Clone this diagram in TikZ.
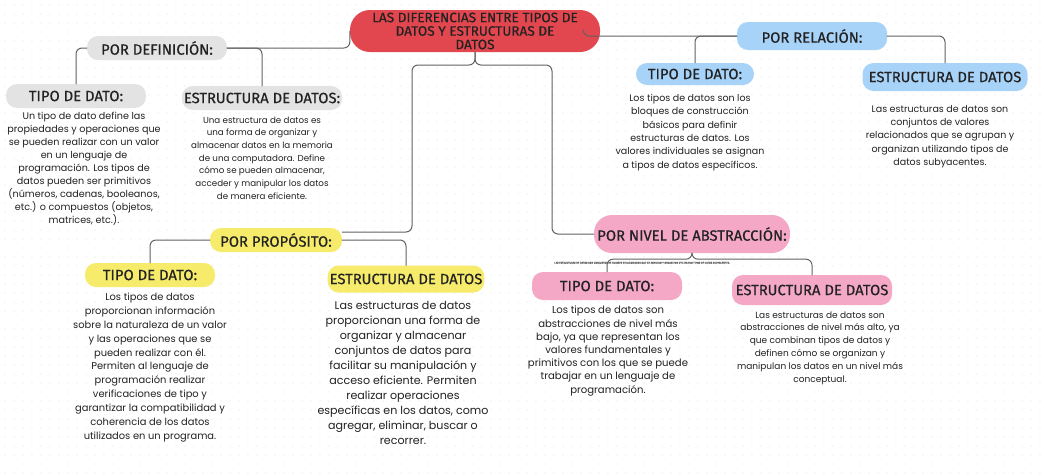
\documentclass[tikz,border=0pt]{standalone}
\usepackage{fontspec}
\newfontfamily\headfont{Fira Sans}[FakeBold=0.5]
\newfontfamily\bodyfont{Poppins}
\usetikzlibrary{positioning}
\definecolor{titred}{HTML}{E2474F}
\definecolor{defgray}{HTML}{E3E3E3}
\definecolor{relblue}{HTML}{A8D3F9}
\definecolor{propyel}{HTML}{F6EB6A}
\definecolor{nivpink}{HTML}{F4A8C6}
\definecolor{linec}{HTML}{626262}
\definecolor{dotc}{HTML}{E4E4E4}
\definecolor{txtc}{HTML}{222222}
\tikzset{
  head/.style={font=\headfont\fontsize{14.8}{16}\selectfont, text=txtc, inner sep=2pt, rounded corners=11pt, minimum height=24pt},
  body/.style={font=\bodyfont\fontsize{9.9}{13}\selectfont, text=txtc, align=center, inner sep=0pt},
  conn/.style={draw=linec, line width=1pt, rounded corners=6pt},
}
\begin{document}
\begin{tikzpicture}[x=1pt,y=-1pt, line join=round, line cap=round]
  \useasboundingbox (0,0) rectangle (1044,475);
  \fill[white] (0,0) rectangle (1044,475);
  \foreach \x in {5,14,...,1044}
    \foreach \y in {5,14,...,475}
      \fill[dotc] (\x,\y) circle (0.6);
  % tema central
  \node[head, fill=titred, rounded corners=20pt, minimum width=250pt, minimum height=42pt, align=center,
        font=\headfont\fontsize{13.6}{13.5}\selectfont] (title) at (475,31)
        {LAS DIFERENCIAS ENTRE TIPOS DE\\DATOS Y ESTRUCTURAS DE\\DATOS};
  % por definicion
  \node[head, fill=defgray, minimum width=140pt] (def) at (157,48) {POR DEFINICIÓN:};
  \node[head, fill=defgray, minimum width=140pt] (defT) at (76,96) {TIPO DE DATO:};
  \node[head, fill=defgray, minimum width=150pt] (defE) at (262,98) {ESTRUCTURA DE DATOS:};
  \node[body, font=\bodyfont\fontsize{9.6}{13}\selectfont] (defTb) at (84,169)
    {Un tipo de dato define las\\propiedades y operaciones que\\se pueden realizar con un valor\\en un lenguaje de\\programación. Los tipos de\\datos pueden ser primitivos\\(números, cadenas, booleanos,\\etc.) o compuestos (objetos,\\matrices, etc.).};
  \node[body, font=\bodyfont\fontsize{8.7}{12.7}\selectfont] (defEb) at (262,158)
    {Una estructura de datos es\\una forma de organizar y\\almacenar datos en la memoria\\de una computadora. Define\\cómo se pueden almacenar,\\acceder y manipular los datos\\de manera eficiente.};
  % por relacion
  \node[head, fill=relblue, minimum width=150pt, minimum height=28pt] (rel) at (812,36) {POR RELACIÓN:};
  \node[head, fill=relblue, minimum width=118pt, minimum height=22pt] (relT) at (695,74) {TIPO DE DATO:};
  \node[head, fill=relblue, minimum width=165pt, minimum height=28pt] (relE) at (945,77) {ESTRUCTURA DE DATOS};
  \node[body, font=\bodyfont\fontsize{9.5}{13.4}\selectfont] (relTb) at (690,132.5)
    {Los tipos de datos son los\\bloques de construcción\\básicos para definir\\estructuras de datos. Los\\valores individuales se asignan\\a tipos de datos específicos.};
  \node[body, font=\bodyfont\fontsize{9.5}{13.3}\selectfont] (relEb) at (940,136.5)
    {Las estructuras de datos son\\conjuntos de valores\\relacionados que se agrupan y\\organizan utilizando tipos de\\datos subyacentes.};
  % por proposito
  \node[head, fill=propyel, minimum width=132pt] (prop) at (276,240) {POR PROPÓSITO:};
  \node[head, fill=propyel, minimum width=130pt] (propT) at (150,275) {TIPO DE DATO:};
  \node[head, fill=propyel, minimum width=155pt, minimum height=27pt] (propE) at (406,279) {ESTRUCTURA DE DATOS};
  \node[body, font=\bodyfont\fontsize{9.9}{13.9}\selectfont] (propTb) at (150,367.5)
    {Los tipos de datos\\proporcionan información\\sobre la naturaleza de un valor\\y las operaciones que se\\pueden realizar con él.\\Permiten al lenguaje de\\programación realizar\\verificaciones de tipo y\\garantizar la compatibilidad y\\coherencia de los datos\\utilizados en un programa.};
  \node[body, font=\bodyfont\fontsize{11.1}{15}\selectfont] (propEb) at (403,372.5)
    {Las estructuras de datos\\proporcionan una forma de\\organizar y almacenar\\conjuntos de datos para\\facilitar su manipulación y\\acceso eficiente. Permiten\\realizar operaciones\\específicas en los datos, como\\agregar, eliminar, buscar o\\recorrer.};
  % por nivel de abstraccion
  \node[head, fill=nivpink, minimum width=196pt, minimum height=38pt, rounded corners=18pt] (niv) at (692,234) {POR NIVEL DE ABSTRACCIÓN:};
  \node[head, fill=nivpink, minimum width=150pt, minimum height=28pt] (nivT) at (607,286) {TIPO DE DATO:};
  \node[head, fill=nivpink, minimum width=160pt, minimum height=30pt] (nivE) at (812,290) {ESTRUCTURA DE DATOS};
  \node[body, font=\bodyfont\fontsize{10.1}{13.2}\selectfont] (nivTb) at (608,351)
    {Los tipos de datos son\\abstracciones de nivel más\\bajo, ya que representan los\\valores fundamentales y\\primitivos con los que se puede\\trabajar en un lenguaje de\\programación.};
  \node[body, font=\bodyfont\fontsize{9}{12.8}\selectfont] (nivEb) at (820,348)
    {Las estructuras de datos son\\abstracciones de nivel más alto, ya\\que combinan tipos de datos y\\definen cómo se organizan y\\manipulan los datos en un nivel más\\conceptual.};
  \node[body, font=\headfont\fontsize{2.6}{3}\selectfont, text=linec] (nivnote) at (642,263)
    {LAS ESTRUCTURAS DE DATOS SON CONJUNTOS DE VALORES RELACIONADOS QUE SE AGRUPAN Y ORGANIZAN UTILIZANDO TIPOS DE DATOS SUBYACENTES.};
  % conectores
  \coordinate (jL) at (412,65);
  \coordinate (jR) at (552,65);
  \draw[conn] (title.west) |- (def.east);
  \draw[conn] ([xshift=-17pt]title.east) |- (rel.west);
  \draw[conn] (title.south) |- (jL) |- ([yshift=8pt]prop.east);
  \draw[conn] (title.south) |- (jR) |- (niv.west);
  \draw[conn] (def.west) -| (defT.north);
  \draw[conn] (def.east) -| (defE.north);
  \draw[conn] (rel.west) -| (relT.north);
  \draw[conn] (rel.east) -| (relE.north);
  \draw[conn] (prop.west) -| (propT.north);
  \draw[conn] (prop.east) -| (propE.north);
  \draw[conn] (niv.south) -- ++(0,6) -| (nivT.north);
  \draw[conn] (niv.south) -- ++(0,6) -| (nivE.north);
\end{tikzpicture}
\end{document}
